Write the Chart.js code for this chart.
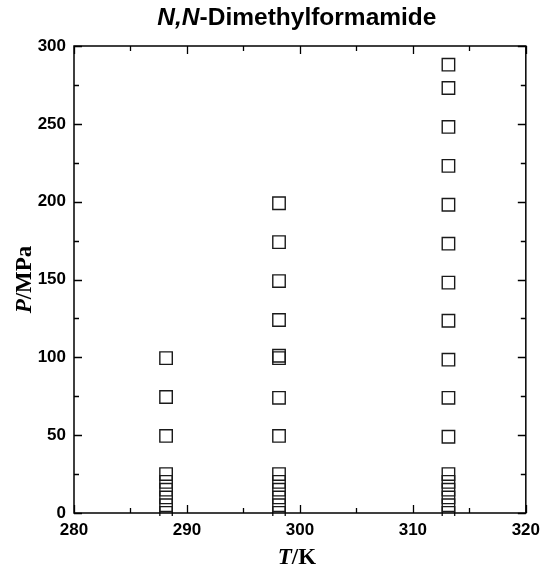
<!DOCTYPE html>
<html>
<head>
<meta charset="utf-8">
<script src="https://cdn.jsdelivr.net/npm/chart.js@4.4.1/dist/chart.umd.min.js"></script>
<style>
  html, body { margin: 0; padding: 0; background: #fff; }
  #wrap { width: 547px; height: 573px; }
</style>
</head>
<body>
<div id="wrap"><canvas id="c" width="547" height="573"></canvas></div>
<script>
// Isotherm temperatures (K) and measured pressures (MPa) along each one
const temperatures = [288.15, 298.15, 313.15];
const p288 = [0.1, 5, 10, 15, 20, 25, 49.5, 74.5, 99.5];
const p298 = [0.1, 5, 10, 15, 20, 25, 49.5, 74, 99.5, 101, 124, 149, 174, 199];
const p313 = [0.1, 5, 10, 15, 20, 25, 49, 74, 98.5, 123.5, 148, 173, 198, 223, 248, 273, 288];

// Axis tick labels
const xTickValues = [280, 290, 300, 310, 320];
const yTickValues = [0, 50, 100, 150, 200, 250, 300];

const SANS = '"Liberation Sans", Arial, sans-serif';
const SERIF = '"Liberation Serif", "Times New Roman", serif';

function series(T, list) {
  return list.map(p => ({ x: T, y: p }));
}

const markerStyle = {
  pointStyle: 'rect',
  pointRadius: 8.8,
  pointHoverRadius: 8.8,
  pointBorderWidth: 1.4,
  pointBorderColor: '#1a1a1a',
  pointBackgroundColor: 'rgba(0,0,0,0)',
  showLine: false,
  clip: { left: 0, top: 0, right: 0, bottom: 3 }
};

// Draws a string made of runs with different font styles, centred on (cx, cy)
function drawRuns(ctx, runs, cx, cy) {
  let total = 0;
  runs.forEach(r => { ctx.font = r.font; r.w = ctx.measureText(r.text).width; total += r.w; });
  let x = cx - total / 2;
  ctx.textBaseline = 'middle';
  ctx.textAlign = 'left';
  runs.forEach(r => { ctx.font = r.font; ctx.fillText(r.text, x, cy); x += r.w; });
}

const framePlugin = {
  id: 'frameAndLabels',
  afterDraw(chart) {
    const { ctx, chartArea: a, scales } = chart;
    const xs = scales.x, ys = scales.y;
    ctx.save();
    ctx.strokeStyle = '#000';
    ctx.fillStyle = '#000';

    // plot frame
    ctx.lineWidth = 1.5;
    ctx.strokeRect(a.left, a.top, a.right - a.left, a.bottom - a.top);

    // inward tick marks on all four sides, major plus a minor halfway between
    ctx.lineWidth = 1.3;
    const MAJ = 8, MIN = 5;
    const xMarks = [];
    xTickValues.forEach((v, i) => {
      xMarks.push([v, MAJ]);
      if (i < xTickValues.length - 1) xMarks.push([(v + xTickValues[i + 1]) / 2, MIN]);
    });
    const yMarks = [];
    yTickValues.forEach((v, i) => {
      yMarks.push([v, MAJ]);
      if (i < yTickValues.length - 1) yMarks.push([(v + yTickValues[i + 1]) / 2, MIN]);
    });
    ctx.beginPath();
    xMarks.forEach(([v, len]) => {
      const px = Math.round(xs.getPixelForValue(v)) + 0.5;
      ctx.moveTo(px, a.bottom); ctx.lineTo(px, a.bottom - len);
      ctx.moveTo(px, a.top); ctx.lineTo(px, a.top + len);
    });
    yMarks.forEach(([v, len]) => {
      const py = Math.round(ys.getPixelForValue(v)) + 0.5;
      ctx.moveTo(a.left, py); ctx.lineTo(a.left + len, py);
      ctx.moveTo(a.right, py); ctx.lineTo(a.right - len, py);
    });
    ctx.stroke();

    const cx = (a.left + a.right) / 2;
    const cy = (a.top + a.bottom) / 2;

    // title
    drawRuns(ctx, [
      { text: 'N,N', font: 'italic bold 24.5px ' + SANS },
      { text: '-Dimethylformamide', font: 'bold 24.5px ' + SANS }
    ], cx - 3, 18);

    // x-axis title
    drawRuns(ctx, [
      { text: 'T', font: 'italic bold 23px ' + SERIF },
      { text: '/K', font: 'bold 23px ' + SERIF }
    ], cx - 3, 558);

    // y-axis title
    ctx.save();
    ctx.translate(25, cy);
    ctx.rotate(-Math.PI / 2);
    drawRuns(ctx, [
      { text: 'P', font: 'italic bold 23px ' + SERIF },
      { text: '/MPa', font: 'bold 23px ' + SERIF }
    ], 0, 0);
    ctx.restore();

    ctx.restore();
  }
};

new Chart(document.getElementById('c'), {
  type: 'scatter',
  data: {
    datasets: [
      Object.assign({ label: temperatures[0] + ' K', data: series(temperatures[0], p288) }, markerStyle),
      Object.assign({ label: temperatures[1] + ' K', data: series(temperatures[1], p298) }, markerStyle),
      Object.assign({ label: temperatures[2] + ' K', data: series(temperatures[2], p313) }, markerStyle)
    ]
  },
  options: {
    responsive: false,
    devicePixelRatio: 1,
    animation: false,
    layout: { padding: { top: 46, right: 20, left: 0, bottom: 0 } },
    plugins: {
      legend: { display: false },
      tooltip: { enabled: false },
      title: { display: false }
    },
    scales: {
      x: {
        type: 'linear',
        min: 280, max: 320,
        afterBuildTicks: s => { s.ticks = xTickValues.map(v => ({ value: v })); },
        afterFit: s => { s.height = 60; },
        grid: { display: false, drawTicks: false },
        border: { display: false },
        ticks: {
          color: '#000',
          padding: 7,
          maxRotation: 0,
          font: { family: SANS, weight: 'bold', size: 17 }
        }
      },
      y: {
        type: 'linear',
        min: 0, max: 300,
        afterBuildTicks: s => { s.ticks = yTickValues.map(v => ({ value: v })); },
        afterFit: s => { s.width = 74; },
        grid: { display: false, drawTicks: false },
        border: { display: false },
        ticks: {
          color: '#000',
          padding: 8,
          font: { family: SANS, weight: 'bold', size: 17 }
        }
      }
    }
  },
  plugins: [framePlugin]
});
</script>
</body>
</html>
